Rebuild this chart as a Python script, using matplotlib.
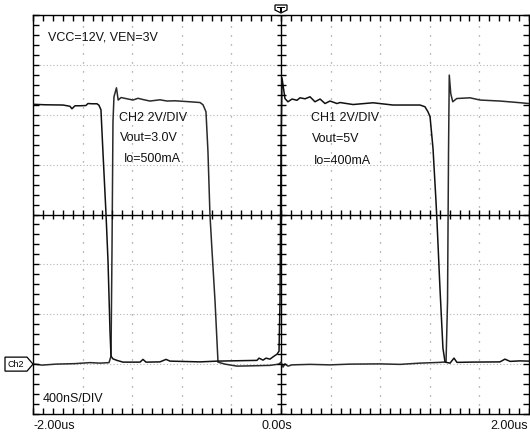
import numpy as np
import matplotlib
matplotlib.use("Agg")
import matplotlib.pyplot as plt
from matplotlib.patches import Polygon
from matplotlib import transforms

plt.rcParams['font.family'] = ['Liberation Sans', 'DejaVu Sans']

# time in ns, voltage in V (2V/DIV), both channels referenced to the Ch2 ground marker
ch1_t = [-2000, -1903, -1758, -1702, -1686, -1661, -1621, -1573, -1557, -1524, -1484, -1468,
         -1452, -1436, -1411, -1395, -1379, -1371, -1355, -1323, -1274, -1137, -1113, -1089,
         -976, -927, -895, -653, -516, -194, -177, -145, -121, -89, -56, -32, -16, -8, 0, 8,
         32, 56, 89, 129, 153, 194, 234, 274, 315, 355, 395, 452, 476, 581, 742, 903, 1121,
         1161, 1185, 1202, 1226, 1250, 1258, 1282, 1306, 1323, 1363, 1395, 1419, 1524, 1766,
         1806, 1847, 1927, 2000]
ch1_v = [10.42, 10.40, 10.39, 10.34, 10.24, 10.36, 10.36, 10.37, 10.45, 10.44, 10.44, 10.38,
         10.2, 8.52, 6.0, 4.12, 1.32, 0.32, 0.21, 0.15, 0.08, 0.08, 0.19, 0.08,
         0.09, 0.19, 0.12, 0.09, 0.12, 0.15, 0.24, 0.16, 0.24, 0.2, 0.32, 0.4, 0.52, 2.52, 8.52, 11.48,
         10.65, 10.52, 10.63, 10.58, 10.68, 10.64, 10.72, 10.52, 10.63, 10.45, 10.55, 10.45, 10.49, 10.41, 10.48, 10.39, 10.39,
         10.32, 10.12, 9.92, 8.64, 6.52, 5.72, 3.04, 0.64, 0.08, 0.04, 0.24, 0.07, 0.08, 0.09,
         0.2, 0.11, 0.13, 0.12]

ch2_t = [-2000, -1927, -1815, -1661, -1540, -1460, -1387, -1371, -1363, -1355, -1347, -1327,
         -1313, -1290, -1242, -1194, -1153, -1113, -1057, -976, -919, -855, -734, -653, -629,
         -605, -589, -573, -556, -532, -508, -452, -355, -250, -89, -16, 0, 16, 32, 56, 89,
         234, 395, 556, 798, 960, 1121, 1282, 1331, 1343, 1351, 1357, 1369, 1385, 1417, 1524,
         1605, 1766, 1887, 2000]
ch2_v = [0.01, -0.04, 0.0, 0.02, 0.06, 0.04, 0.06, 0.32, 4.52, 9.72, 10.72, 11.08,
         10.59, 10.69, 10.64, 10.59, 10.66, 10.61, 10.55, 10.6, 10.55, 10.56, 10.52, 10.49, 10.4,
         10.12, 8.52, 6.0, 4.52, 2.52, 0.08, 0.0, -0.08, -0.07, -0.05, 0.0, 0.08, -0.12, 0.01, -0.08, -0.03,
         -0.01, -0.03, 0.0, 0.01, -0.01, 0.04, 0.07, 0.09, 2.52, 8.52, 11.59, 10.85, 10.52, 10.65, 10.68,
         10.59, 10.55, 10.5, 10.45]

t_range = (-2000, 2000)
v_range = (-2, 14)
ns_div = 400
v_div = 2

top_note = "VCC=12V, VEN=3V"
ch2_note = ["CH2 2V/DIV", "Vout=3.0V", "Io=500mA"]
ch1_note = ["CH1 2V/DIV", "Vout=5V", "Io=400mA"]
time_note = "400nS/DIV"
x_labels = ["-2.00us", "0.00s", "2.00us"]

W, H = 530, 438
fig = plt.figure(figsize=(W/100, H/100), dpi=100)
L, R, T, B = 33, 529, 15, 414
ax = fig.add_axes([L/W, (H-B)/H, (R-L)/W, (B-T)/H])
ax.set_xlim(*t_range)
ax.set_ylim(*v_range)

xmaj = np.arange(t_range[0], t_range[1]+1, ns_div)
ymaj = np.arange(v_range[0], v_range[1]+0.01, v_div)
xmin = np.arange(t_range[0], t_range[1]+1, ns_div/5)
ymin = np.arange(v_range[0], v_range[1]+0.01, v_div/5)
ax.set_xticks(xmaj)
ax.set_yticks(ymaj)
ax.set_xticks(xmin, minor=True)
ax.set_yticks(ymin, minor=True)
ax.tick_params(which='both', direction='in', length=4, width=1.0, color='black',
               top=True, right=True, labelbottom=False, labelleft=False)
ax.xaxis.set_zorder(5)
ax.yaxis.set_zorder(5)
for s in ax.spines.values():
    s.set_linewidth(1.0)
    s.set_color('black')

# dotted graticule
xc = np.mean(t_range)
yc = np.mean(v_range)
for x in xmaj[1:-1]:
    if x != xc:
        ax.axvline(x, color='#8a8a8a', lw=0.9, ls=(0, (0.9, 6.3)), zorder=1)
for y in ymaj[1:-1]:
    if y != yc:
        ax.axhline(y, color='#b5b5b5', lw=0.8, ls=(0, (1, 2)), zorder=1)

# centre cross with ticks
ax.axvline(xc, color='black', lw=1.0, zorder=2)
ax.axhline(yc, color='black', lw=1.0, zorder=2)
tx = 4.5 * (t_range[1]-t_range[0]) / (R-L)
ty = 4.5 * (v_range[1]-v_range[0]) / (B-T)
ax.vlines(xmin, yc-ty, yc+ty, color='black', lw=1.0, zorder=5)
ax.hlines(ymin, xc-tx, xc+tx, color='black', lw=1.0, zorder=5)

# traces
ax.plot(ch2_t, ch2_v, color='#2a2a2a', lw=1.1, zorder=3)
ax.plot(ch1_t, ch1_v, color='#111111', lw=1.1, zorder=4)

# annotations
fs = 9
def px_text(x, y, s, **kw):
    fig.text(x/W, 1-y/H, s, fontsize=fs, color='#111111', va='center', **kw)

px_text(48, 38, top_note)
for i, s in enumerate(ch2_note):
    px_text([119, 120, 124][i], [118, 138, 159.5][i], s)
for i, s in enumerate(ch1_note):
    px_text([311, 312, 314][i], [118, 138.5, 160.5][i], s)
px_text(43, 399, time_note)
px_text(33, 426, x_labels[0], ha='left')
px_text(262, 426, x_labels[1], ha='left')
px_text(528, 426, x_labels[2], ha='right')

# Ch2 ground marker
bt = transforms.blended_transform_factory(ax.transAxes, ax.transData)
hh = 7 * (v_range[1]-v_range[0]) / (B-T)
x5, x28 = (5-L)/(R-L), (27-L)/(R-L)
ax.add_patch(Polygon([(x5, -hh), (x28, -hh), (0, 0), (x28, hh), (x5, hh)], closed=True,
                     transform=bt, clip_on=False, fc='white', ec='black', lw=0.9))
ax.text((16-L)/(R-L), 0, "Ch2", transform=bt, fontsize=6.5, ha='center', va='center')

# trigger marker
bt2 = transforms.blended_transform_factory(ax.transData, ax.transAxes)
dx = 6 * (t_range[1]-t_range[0]) / (R-L)
dy = 1 / (B-T)
ax.add_patch(Polygon([(xc-dx, 1+10*dy), (xc+dx, 1+10*dy), (xc+dx, 1+5*dy), (xc, 1+2*dy), (xc-dx, 1+5*dy)],
                     closed=True, transform=bt2, clip_on=False, fc='white', ec='black', lw=0.9))
ax.add_patch(Polygon([(xc-dx*0.6, 1+8*dy), (xc+dx*0.6, 1+8*dy), (xc+dx*0.6, 1+6.5*dy),
                      (xc+dx*0.15, 1+6.5*dy), (xc+dx*0.15, 1+3.5*dy), (xc-dx*0.15, 1+3.5*dy),
                      (xc-dx*0.15, 1+6.5*dy), (xc-dx*0.6, 1+6.5*dy)],
                     closed=True, transform=bt2, clip_on=False, fc='black', ec='none'))

fig.savefig("out.png", dpi=100)
